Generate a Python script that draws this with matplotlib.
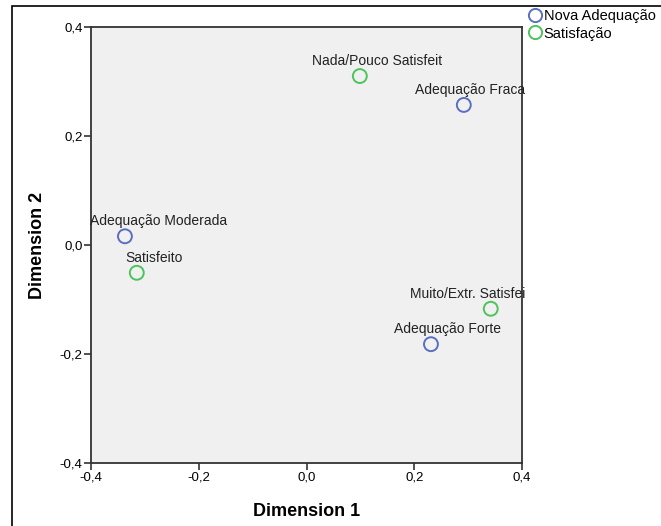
import matplotlib.pyplot as plt
from matplotlib.patches import Rectangle
from matplotlib.lines import Line2D

plt.rcParams["font.family"] = ["Liberation Sans", "DejaVu Sans"]

# row and column category coordinates
adequacao_labels = ["Adequação Moderada", "Adequação Fraca", "Adequação Forte"]
adequacao_dim1 = [-0.337, 0.292, 0.231]
adequacao_dim2 = [0.016, 0.257, -0.182]

satisfacao_labels = ["Satisfeito", "Nada/Pouco Satisfeit", "Muito/Extr. Satisfei"]
satisfacao_dim1 = [-0.315, 0.099, 0.342]
satisfacao_dim2 = [-0.051, 0.310, -0.117]

ticks = [-0.4, -0.2, 0.0, 0.2, 0.4]
tick_labels = ["-0,4", "-0,2", "0,0", "0,2", "0,4"]

BLUE = "#5a6fc0"
GREEN = "#4cc45a"

fig = plt.figure(figsize=(6.61, 5.26), dpi=100)
W, H = 661, 526
ax = fig.add_axes([91 / W, 1 - 463 / H, (522 - 91) / W, (463 - 27) / H])
ax.set_facecolor("#f0f0f0")
ax.set_xlim(-0.4, 0.4)
ax.set_ylim(-0.4, 0.4)

# outer frame
fig.patches.append(Rectangle((12 / W, -0.1), 1.1, 1.1 - 6 / H, transform=fig.transFigure,
                             fill=False, edgecolor="black", linewidth=1.2))

renderer = fig.canvas.get_renderer()
axbb = ax.get_window_extent(renderer)


def place_label(text, x, y):
    # labels sit a little right of the point, pushed back inside the frame near the edges
    dx, dy = 17, 8
    t = ax.annotate(text, (x, y), xytext=(dx, dy), textcoords="offset pixels",
                    ha="center", va="bottom", fontsize=10, color="#222222")
    bb = t.get_window_extent(renderer)
    if bb.x0 < axbb.x0:
        dx += axbb.x0 - bb.x0 - 1
    elif bb.x1 > axbb.x1 + 3:
        dx += axbb.x1 + 3 - bb.x1
    t.xyann = (dx, dy)
    t.set_clip_on(True)


for labels, xs, ys, color in [
    (adequacao_labels, adequacao_dim1, adequacao_dim2, BLUE),
    (satisfacao_labels, satisfacao_dim1, satisfacao_dim2, GREEN),
]:
    ax.scatter(xs, ys, s=100, facecolors="none", edgecolors=color, linewidths=1.4, zorder=3)
    for lab, x, y in zip(labels, xs, ys):
        place_label(lab, x, y)

ax.set_xticks(ticks)
ax.set_xticklabels(tick_labels)
ax.set_yticks(ticks)
ax.set_yticklabels(tick_labels)
ax.tick_params(direction="out", length=5, width=1.2, labelsize=9.5, color="#333333", pad=1)
for sp in ax.spines.values():
    sp.set_linewidth(1.3)
    sp.set_color("#333333")

ax.set_xlabel("Dimension 1", fontsize=13, fontweight="bold", labelpad=14)
ax.set_ylabel("Dimension 2", fontsize=13, fontweight="bold", labelpad=10)

handles = [
    Line2D([], [], linestyle="none", marker="o", markersize=9.5, markerfacecolor="none",
           markeredgecolor=BLUE, markeredgewidth=1.4),
    Line2D([], [], linestyle="none", marker="o", markersize=9.5, markerfacecolor="none",
           markeredgecolor=GREEN, markeredgewidth=1.4),
]
fig.legend(handles, ["Nova Adequação", "Satisfação"], loc="upper left",
           bbox_to_anchor=(526 / W, 1 - 6 / H), frameon=False, fontsize=10.5,
           handlelength=0.8, handletextpad=0.2, labelspacing=0.25, borderpad=0.2,
           borderaxespad=0)

fig.savefig("out.png", dpi=100)
